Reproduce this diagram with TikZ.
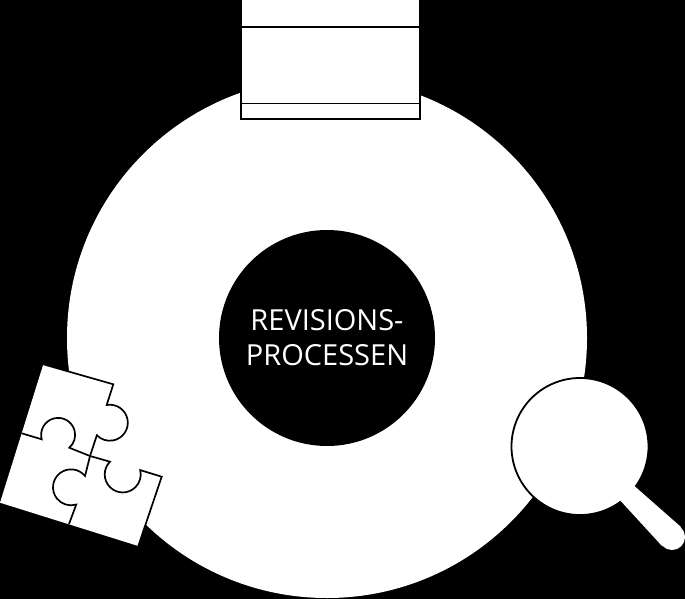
\documentclass[tikz,border=0pt]{standalone}
\usepackage{fontspec}
\setmainfont{Open Sans}
\tikzset{
  disc/.style={circle,fill=white,draw=none,inner sep=0pt},
  hub/.style={circle,fill=black,draw=none,inner sep=0pt},
  seam/.style={draw=black,line width=1.7pt,line join=miter},
  hubtext/.style={text=white,align=center,font=\fontsize{29}{35}\selectfont,inner sep=0pt}
}
\begin{document}
\begin{tikzpicture}[x=1pt,y=-1pt]
\useasboundingbox (0,0) rectangle (685,599);
\fill[black] (0,0) rectangle (685,599);
% main ring
\node[disc,minimum size=520pt] (ring) at (327,338) {};
\node[hub,minimum size=216pt] (hub) at (327,338) {};
\node[hubtext] (title) at (327,338) {REVISIONS-\\PROCESSEN};
% book
\filldraw[fill=white,draw=black,line width=1.2pt] (241,-3) rectangle (420,119);
\draw[black,line width=2pt] (240.4,119.2) -- (420.6,119.2);
\draw[seam,line width=1.2pt] (241,27) -- (420,27);
\draw[seam,line width=1.5pt] (241,103.5) -- (420,103.5);
% magnifier
\filldraw[fill=white,draw=black,line width=1.8pt] (580,446.5) circle (68.5);
\fill[white] (618,498) -- (631,483) -- (681,527) -- (662,546) -- cycle;
\fill[white] (672,537) circle (13);
% puzzle
\fill[white] (43.3,364.3) -- (113.3,384.3) -- (161.7,476.7) -- (138.3,546) -- (0,502.7) -- (21.7,433.3) -- cycle;
\draw[seam] (43.3,364.3) -- (113.3,384.3) -- (106.7,405)
  arc[start angle=-100,end angle=136,radius=18] -- (90,456) -- (85,476)
  arc[start angle=-39,end angle=-287,radius=18] -- (69,524);
\draw[seam] (21.7,433.3) -- (41.7,439.3)
  arc[start angle=165,end angle=409,radius=17] -- (90,456) -- (110,461.7)
  arc[start angle=225,end angle=-14,radius=18] -- (161.7,476.7) -- (138.3,546);
\end{tikzpicture}
\end{document}
